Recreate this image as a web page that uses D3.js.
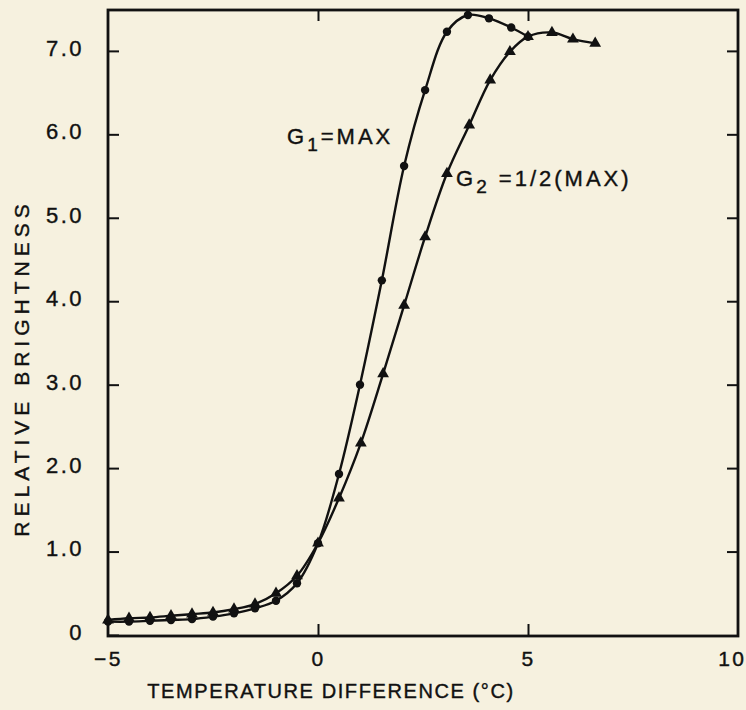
<!DOCTYPE html>
<html>
<head>
<meta charset="utf-8">
<script src="https://cdn.jsdelivr.net/npm/d3@7"></script>
<style>
  body { margin: 0; background: #f6f1df; }
  svg { display: block; font-family: "Liberation Sans", Arial, sans-serif; }
  .axis path { display: none; }
  .axis line { stroke: #111; stroke-width: 2; }
  .axis text { font-size: 21px; fill: #111; letter-spacing: 2.5px; stroke: #111; stroke-width: 0.4px; }
  .ylab text { font-size: 22px; letter-spacing: 2.5px; }
  .lbl { fill: #111; stroke: #111; stroke-width: 0.4px; }
</style>
</head>
<body>
<svg class="board"></svg>
<script>
// G1 = MAX (circles)
var g1X = [-5, -4.5, -4, -3.5, -3, -2.5, -2, -1.5, -1, -0.5, 0, 0.5, 1.0, 1.52, 2.05, 2.55, 3.07, 3.57, 4.07, 4.6, 5.0];
var g1Y = [0.16, 0.16, 0.17, 0.18, 0.19, 0.22, 0.26, 0.32, 0.41, 0.62, 1.1, 1.93, 3.0, 4.25, 5.62, 6.53, 7.23, 7.43, 7.39, 7.28, 7.17];
// G2 = 1/2(MAX) (triangles)
var g2X = [-5, -4.5, -4, -3.5, -3, -2.5, -2, -1.5, -1, -0.5, 0, 0.5, 1.02, 1.55, 2.05, 2.55, 3.07, 3.6, 4.1, 4.57, 5.0, 5.57, 6.07, 6.6];
var g2Y = [0.18, 0.2, 0.21, 0.23, 0.25, 0.27, 0.31, 0.37, 0.5, 0.71, 1.1, 1.64, 2.3, 3.13, 3.95, 4.77, 5.53, 6.11, 6.65, 6.99, 7.17, 7.22, 7.14, 7.09];

var xTicks = [-5, 0, 5, 10];
var xInnerTicks = [0, 5];
var yTicks = [0, 1, 2, 3, 4, 5, 6, 7];

var W = 746, H = 710;
var mLeft = 108, mRight = 738, mTop = 10, mBottom = 635;

var svg = d3.select('.board').attr('width', W).attr('height', H);

var x = d3.scaleLinear().domain([-5, 10]).range([mLeft, mRight]);
var y = d3.scaleLinear().domain([0, 7.49]).range([mBottom, mTop]);

var fmtY = function (d) { return d === 0 ? '0' : d.toFixed(1); };

// ticks, all pointing inward
var yAxis = svg.append('g').attr('class', 'axis ylab')
  .attr('transform', 'translate(' + mLeft + ',0)')
  .call(d3.axisLeft(y).tickValues(yTicks).tickSize(-11).tickPadding(24).tickFormat(fmtY));
yAxis.selectAll('.tick text').attr('dy', '0.2em');

svg.append('g').attr('class', 'axis')
  .attr('transform', 'translate(' + mRight + ',0)')
  .call(d3.axisRight(y).tickValues(yTicks.slice(1)).tickSize(-11).tickFormat(''));

svg.append('g').attr('class', 'axis')
  .attr('transform', 'translate(0,' + mTop + ')')
  .call(d3.axisTop(x).tickValues(xInnerTicks).tickSize(-11).tickFormat(''));

var xAxis = svg.append('g').attr('class', 'axis')
  .attr('transform', 'translate(0,' + mBottom + ')')
  .call(d3.axisBottom(x).tickValues(xTicks).tickSize(-11).tickPadding(16)
    .tickFormat(function (d) { return d < 0 ? '\u2212' + Math.abs(d) : d; }));
xAxis.selectAll('.tick').filter(function (d) { return d === -5 || d === 10; }).select('line').remove();
xAxis.selectAll('.tick text').filter(function (d) { return d === 10; })
  .attr('text-anchor', 'end').attr('dx', 8);

// frame
svg.append('rect')
  .attr('x', mLeft).attr('y', mTop)
  .attr('width', mRight - mLeft).attr('height', mBottom - mTop + 1)
  .attr('fill', 'none').attr('stroke', '#111').attr('stroke-width', 2.8);

// axis titles
svg.append('text').attr('class', 'lbl')
  .attr('x', 331).attr('y', 698)
  .attr('text-anchor', 'middle').attr('font-size', 20).attr('letter-spacing', 1.6)
  .text('TEMPERATURE DIFFERENCE (\u00B0C)');

svg.append('text').attr('class', 'lbl')
  .attr('transform', 'translate(29,' + 368 + ') rotate(-90)')
  .attr('text-anchor', 'middle').attr('font-size', 21).attr('letter-spacing', 5)
  .text('RELATIVE BRIGHTNESS');

// curves
var line = d3.line()
  .x(function (d) { return x(d[0]); })
  .y(function (d) { return y(d[1]); })
  .curve(d3.curveCatmullRom.alpha(0.5));

var g1 = d3.zip(g1X, g1Y);
var g2 = d3.zip(g2X, g2Y);

svg.append('path').datum(g1).attr('d', line)
  .attr('fill', 'none').attr('stroke', '#111').attr('stroke-width', 2.4);
svg.append('path').datum(g2).attr('d', line)
  .attr('fill', 'none').attr('stroke', '#111').attr('stroke-width', 2.4);

svg.append('g').selectAll('circle').data(g1).enter().append('circle')
  .attr('cx', function (d) { return x(d[0]); })
  .attr('cy', function (d) { return y(d[1]); })
  .attr('r', 4.2).attr('fill', '#111');

var tri = d3.symbol().type(d3.symbolTriangle).size(60);
svg.append('g').selectAll('path').data(g2).enter().append('path')
  .attr('d', tri)
  .attr('transform', function (d) { return 'translate(' + x(d[0]) + ',' + y(d[1]) + ')'; })
  .attr('fill', '#111');

// labels
var lab1 = svg.append('text').attr('class', 'lbl').attr('x', 287).attr('y', 144)
  .attr('font-size', 22).attr('letter-spacing', 3);
lab1.append('tspan').text('G');
lab1.append('tspan').attr('font-size', 19).attr('dy', 7).text('1');
lab1.append('tspan').attr('dy', -7).text('=MAX');

var lab2 = svg.append('text').attr('class', 'lbl').attr('x', 456).attr('y', 186)
  .attr('font-size', 22).attr('letter-spacing', 3);
lab2.append('tspan').text('G');
lab2.append('tspan').attr('font-size', 19).attr('dy', 7).text('2');
lab2.append('tspan').attr('dy', -7).text(' =1/2(MAX)');
</script>
</body>
</html>
